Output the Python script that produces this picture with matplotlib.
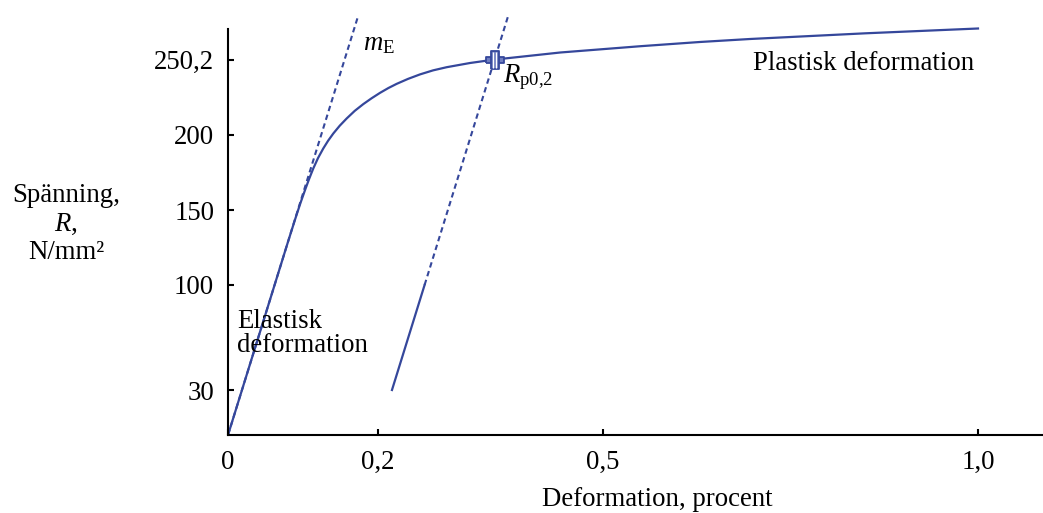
import matplotlib
matplotlib.use("Agg")
import matplotlib.pyplot as plt

plt.rcParams['font.family'] = ['Liberation Serif', 'DejaVu Serif']
plt.rcParams['mathtext.fontset'] = 'custom'
plt.rcParams['mathtext.rm'] = 'Liberation Serif'
plt.rcParams['mathtext.it'] = 'Liberation Serif:italic'
plt.rcParams['font.size'] = 19.3

# stress-strain curve, strain in percent, stress in N/mm2
strain = [0, 0.03, 0.06, 0.08, 0.0893, 0.0965, 0.1027, 0.108, 0.1138, 0.12,
          0.127, 0.1335, 0.1404, 0.149, 0.1582, 0.169, 0.1804, 0.1915, 0.2027,
          0.2138, 0.2249, 0.24, 0.256, 0.2735, 0.2916, 0.3227, 0.354, 0.443,
          0.55, 0.629, 0.696, 0.85, 1.0]
stress = [0, 48.3, 96.6, 128.8, 143.5, 154.5, 163.3, 170.5, 177.8, 184.6,
          191.0, 196.2, 201.0, 206.2, 211.0, 216.1, 220.6, 224.5, 228.1,
          231.3, 234.1, 237.4, 240.4, 243.1, 245.2, 248.0, 250.2, 255,
          259.2, 262, 264, 267.8, 271]

E = 1610.0          # slope of the elastic part (m_E)
offset = 0.2        # 0,2 % offset line
rp02 = 250.2        # yield strength R_p0,2

x_ticks = [0, 0.2, 0.5, 1.0]
x_labels = ['0', '0,2', '0,5', '1,0']
y_ticks = [30, 100, 150, 200, 250.2]
y_labels = ['30', '100', '150', '200', '250,2']

blue = '#35479b'

fig = plt.figure(figsize=(10.43, 5.13), dpi=100)
ax = fig.add_axes([228 / 1043, 78 / 513, 815 / 1043, 435 / 513])

# elastic line m_E
ax.plot([0, 280 / E], [0, 280], color=blue, lw=1.5, dashes=(2.6, 1.8))
# offset line: solid part then dashed continuation
ax.plot([offset + 30 / E, offset + 100 / E], [30, 100], color=blue, lw=1.6)
ax.plot([offset + 100 / E, offset + 280 / E], [100, 280], color=blue, lw=1.5,
        dashes=(2.6, 1.8))
# measured curve
ax.plot(strain, stress, color=blue, lw=1.6, solid_joinstyle='round')

# marker at R_p0,2
xr = offset + rp02 / E
ax.plot([xr], [rp02], linestyle='none', ms=13.5, mew=1.3, mec=blue, mfc='#6f7dc0',
        marker=[(-1, -0.37), (1, -0.37), (1, 0.37), (-1, 0.37), (-1, -0.37)])
ax.plot([xr], [rp02], linestyle='none', ms=13, mew=1.3, mec=blue, mfc='#6f7dc0',
        marker=[(-0.45, -1), (0.45, -1), (0.45, 1), (-0.45, 1), (-0.45, -1)])
ax.plot([xr - 0.002, xr + 0.002], [rp02, rp02], linestyle='none', marker='|',
        ms=11, mew=0.9, color='white')

ax.text(0.18, 256.5, r'$m_\mathrm{E}$', ha='left', va='baseline')
ax.text(0.367, 235, r'$R_\mathrm{p0{,}2}$', ha='left', va='baseline')
ax.text(0.70, 243, 'Plastisk deformation', ha='left', va='baseline')
ax.text(0.012, 71.3, 'Elastisk', ha='left', va='baseline')
ax.text(0.012, 55.3, 'deformation', ha='left', va='baseline')

ax.set_xlim(0, 815 / 750)
ax.set_ylim(0, 290)
ax.set_xticks(x_ticks)
ax.set_xticklabels(x_labels)
ax.set_yticks(y_ticks)
ax.set_yticklabels(y_labels)

for s in ['top', 'right']:
    ax.spines[s].set_visible(False)
for s in ['left', 'bottom']:
    ax.spines[s].set_linewidth(1.5)
ax.spines['left'].set_bounds(0, 271)
ax.tick_params(direction='in', length=4.5, width=1.5)
ax.tick_params(axis='x', pad=11)
ax.tick_params(axis='y', pad=10)

fig.text(66 / 1043, 1 - 224 / 513, 'Spänning,\n$R$,\nN/mm²', ha='center',
         va='center', multialignment='center', linespacing=1.2)
fig.text(657 / 1043, 1 - 506 / 513, 'Deformation, procent', ha='center',
         va='baseline')

fig.savefig('out.png', dpi=100)
